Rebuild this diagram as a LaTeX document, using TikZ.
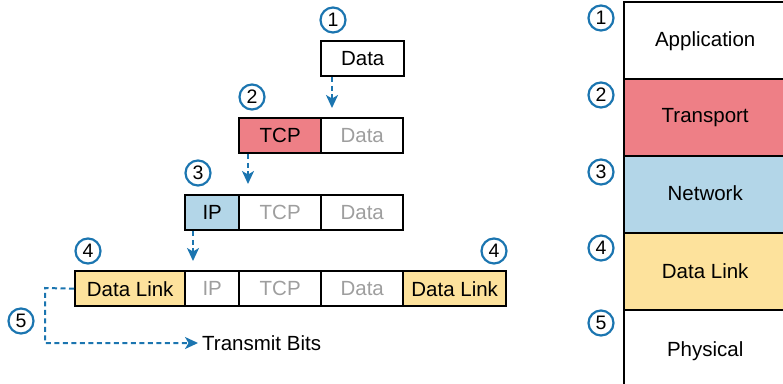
\documentclass[tikz,border=0pt]{standalone}
\usepackage{fontspec}
\setmainfont{Liberation Sans}
\usetikzlibrary{arrows.meta}
\definecolor{tcpred}{HTML}{EE7F86}
\definecolor{netblue}{HTML}{B3D6E8}
\definecolor{dlyellow}{HTML}{FDE29C}
\definecolor{arrblue}{HTML}{1B75B0}
\definecolor{greytxt}{HTML}{9E9E9E}
\begin{document}
\begin{tikzpicture}[x=1pt,y=-1pt,
  hdr/.style={draw=black, line width=2.4pt, rectangle, inner sep=0pt, anchor=north west,
    minimum height=35pt, font=\fontsize{20.5}{23}\selectfont},
  pay/.style={hdr, text=greytxt},
  num/.style={circle, draw=arrblue, line width=2.2pt, minimum size=25pt, inner sep=0pt,
    font=\fontsize{19.5}{21}\selectfont},
  arr/.style={draw=arrblue, line width=2pt, dash pattern=on 5pt off 3.5pt,
    -{Stealth[length=13pt,width=12pt,inset=3.5pt]}},
  layer/.style={rectangle, draw=black, line width=2.4pt, inner sep=0pt, anchor=north west,
    minimum width=200pt, minimum height=77pt, font=\fontsize{20.5}{23}\selectfont}]
\useasboundingbox (0,0) rectangle (783,383);
% right stack
\begin{scope}
\clip (0,0) rectangle (783,383);
\node[layer, fill=white] (app) at (623,1) {\hspace*{-38pt}\raisebox{2pt}{Application}};
\node[layer, fill=tcpred] (tra) at (623,78) {\hspace*{-38pt}\raisebox{1pt}{Transport}};
\node[layer, fill=netblue] (net) at (623,155) {\hspace*{-38pt}\raisebox{2.5pt}{Network}};
\node[layer, fill=dlyellow] (dl) at (623,232) {\hspace*{-38pt}\raisebox{2pt}{Data Link}};
\node[layer, fill=white, minimum height=90pt] (phy) at (623,309) {\hspace*{-38pt}\raisebox{12pt}{Physical}};
\end{scope}
\node[num] (r1) at (601,18) {1};
\node[num] (r2) at (601,95) {2};
\node[num] (r3) at (601,172) {3};
\node[num] (r4) at (601,248) {4};
\node[num] (r5) at (601,323) {5};
% row 1
\node[hdr, minimum width=83pt] (d1) at (320,40) {Data};
\node[num] (c1) at (333,20) {1};
% row 2
\node[hdr, fill=tcpred, minimum width=82pt] (t2) at (238,117) {TCP};
\node[pay, minimum width=82pt] (d2) at (320,117) {Data};
\node[num] (c2) at (252,97) {2};
% row 3
\node[hdr, fill=netblue, minimum width=54pt] (i3) at (184,194) {IP};
\node[pay, minimum width=82pt] (t3) at (238,194) {TCP};
\node[pay, minimum width=82pt] (d3) at (320,194) {Data};
\node[num] (c3) at (198,173) {3};
% row 4
\node[hdr, fill=dlyellow, minimum width=110pt] (l4) at (74,270) {Data Link};
\node[pay, minimum width=54pt] (i4) at (184,270) {IP};
\node[pay, minimum width=82pt] (t4) at (238,270) {TCP};
\node[pay, minimum width=82pt] (d4) at (320,270) {Data};
\node[hdr, fill=dlyellow, minimum width=103pt] (lt4) at (402,270) {Data Link};
\node[num] (c4a) at (88,251) {4};
\node[num] (c4b) at (494,251) {4};
% transmit
\node[inner sep=0pt, anchor=west, font=\fontsize{20.5}{23}\selectfont] (tb) at (202,343) {Transmit Bits};
\node[num] (c5) at (21,321) {5};
\coordinate (bend) at (45,288);
% arrows
\draw[arr] ([xshift=12pt]d1.south west) -- ([xshift=12pt,yshift=9pt]d2.north west);
\draw[arr] ([xshift=10pt]t2.south west) -- ([xshift=10pt,yshift=10pt]t3.north west);
\draw[arr] ([xshift=9pt]i3.south west) -- ([xshift=9pt,yshift=9pt]i4.north west);
\draw[arr] (l4.west) -- (bend) |- ([xshift=-4pt]tb.west);
\end{tikzpicture}
\end{document}
